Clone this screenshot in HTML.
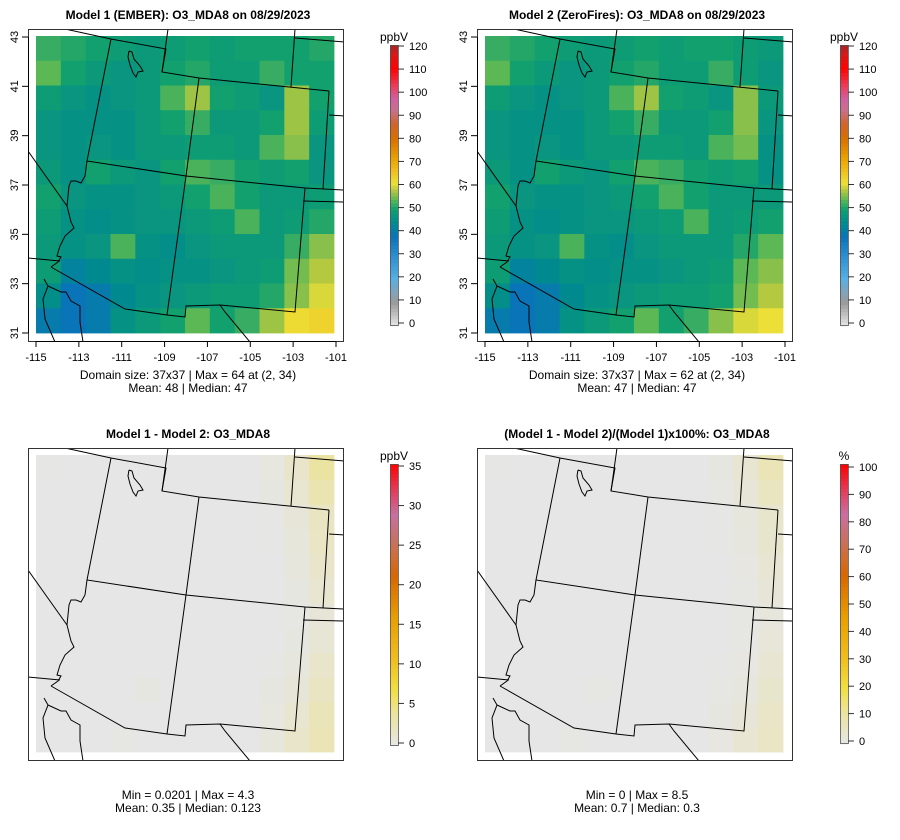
<!DOCTYPE html>
<html><head><meta charset="utf-8">
<style>
html,body{margin:0;padding:0;background:#fff;}
svg{display:block;font-family:"Liberation Sans",sans-serif;}
</style></head>
<body>
<svg id="fig" width="900" height="840" viewBox="0 0 900 840"></svg>
<script>
// ---- data (12x12 coarse grids, rows north->south, cols west->east) ----
const model1Grid = [
[52,51,50,49,48,49,50,49,50,50,50,51],
[54,50,48,47,48,50,51,49,49,52,50,50],
[49,47,46,47,48,53,57,50,49,47,57,50],
[47,46,46,46,48,50,52,48,48,50,57,49],
[47,46,47,46,48,48,49,49,48,53,56,47],
[48,46,50,48,47,50,53,52,50,49,50,47],
[50,47,46,46,47,48,50,53,50,48,48,49],
[49,46,45,46,47,47,48,49,53,48,49,51],
[48,46,47,53,46,45,47,48,48,48,52,56],
[49,42,44,46,45,46,46,47,48,49,55,58],
[45,38,40,44,46,47,48,49,49,51,56,60],
[40,38,40,46,48,50,54,50,52,57,62,63]];
const model2Grid = [
[52,51,50,49,48,49,50,49,50,50,49,48],
[54,50,48,47,48,50,51,49,49,52,49,47],
[49,47,46,47,48,53,57,50,49,47,56,48],
[47,46,46,46,48,50,52,48,48,50,56,47],
[47,46,47,46,48,48,49,49,48,53,55,46],
[48,46,50,48,47,50,53,52,50,49,50,46],
[50,47,46,46,47,48,50,53,50,48,48,48],
[49,46,45,46,47,47,48,49,53,48,49,50],
[48,46,47,53,46,45,47,48,48,48,51,54],
[49,42,44,46,45,46,46,47,48,49,54,56],
[45,38,40,44,46,47,48,49,49,50,55,58],
[40,38,40,46,48,50,54,50,52,56,60,61]];
const diffGrid = [
[0.1,0,0,0,0,0,0,0,0,0.4,1.5,3.8],
[0,0,0,0,0,0,0,0,0,0.3,1.2,3.0],
[0,0,0,0,0,0,0,0,0,0.1,0.8,2.0],
[0,0,0,0,0,0,0,0,0,0.1,0.6,1.8],
[0,0,0,0,0,0,0,0,0,0,0.5,1.5],
[0,0,0,0,0,0,0,0,0,0,0.3,1.2],
[0,0,0,0,0,0,0,0,0,0,0.2,0.8],
[0,0,0,0,0,0,0,0,0,0,0.3,1.0],
[0,0,0,0,0,0,0,0,0,0.1,0.5,1.5],
[0,0,0,0,0.3,0,0,0,0,0.3,0.8,2.0],
[0,0,0,0,0,0,0,0,0,0.4,1.2,2.5],
[0,0,0,0.2,0,0,0,0,0,0.5,1.5,2.6]];
const pctGrid = [
[0.2,0,0,0,0,0,0,0,0,0.8,3.0,7.5],
[0,0,0,0,0,0,0,0,0,0.6,2.4,6.0],
[0,0,0,0,0,0,0,0,0,0.2,1.6,4.0],
[0,0,0,0,0,0,0,0,0,0.2,1.2,3.6],
[0,0,0,0,0,0,0,0,0,0,1.0,3.0],
[0,0,0,0,0,0,0,0,0,0,0.6,2.4],
[0,0,0,0,0,0,0,0,0,0,0.4,1.6],
[0,0,0,0,0,0,0,0,0,0,0.6,2.0],
[0,0,0,0,0,0,0,0,0,0.2,1.0,3.0],
[0,0,0,0,0.6,0,0,0,0,0.6,1.6,4.0],
[0,0,0,0,0,0,0,0,0,0.8,2.4,5.0],
[0,0,0,0.4,0,0,0,0,0,1.0,3.0,5.2]];
const lonTicks = [-115,-113,-111,-109,-107,-105,-103,-101];
const latTicks = [31,33,35,37,39,41,43];
const ozoneTicks = [0,10,20,30,40,50,60,70,80,90,100,110,120];
const diffTicks = [0,5,10,15,20,25,30,35];
const pctTicks = [0,10,20,30,40,50,60,70,80,90,100];

// ---- color ramps (value fraction -> color) ----
const ozoneStops=[[0,'#e6e6e6'],[10,'#9a9a9a'],[15,'#7fa4bf'],[20,'#58b0e2'],[30,'#2c8fd0'],[38,'#0a74b8'],[44,'#008a90'],[50,'#11a06e'],[54,'#5cb855'],[58,'#b4c840'],[61,'#ece038'],[66,'#f0c020'],[72,'#e8a000'],[80,'#d87000'],[86,'#cf6528'],[92,'#c8708a'],[97,'#d060a0'],[102,'#e84060'],[110,'#ff0000'],[116,'#d81818'],[120,'#a02828']];
const warmStops=[[0,'#e6e6e6'],[0.12,'#ece39a'],[0.2,'#f0e040'],[0.3,'#f0c020'],[0.45,'#e8a000'],[0.6,'#d86800'],[0.72,'#c8705a'],[0.82,'#c870a0'],[0.9,'#e04060'],[1,'#ff0000']];
function hex(c){return [parseInt(c.slice(1,3),16),parseInt(c.slice(3,5),16),parseInt(c.slice(5,7),16)];}
function ramp(stops,v){
  if(v<=stops[0][0]) return stops[0][1];
  for(let i=1;i<stops.length;i++){
    if(v<=stops[i][0]){const a=stops[i-1],b=stops[i];const t=(v-a[0])/(b[0]-a[0]);
      const ca=hex(a[1]),cb=hex(b[1]);return 'rgb('+ca.map((x,k)=>Math.round(x+(cb[k]-x)*t)).join(',')+')';}
  }
  return stops[stops.length-1][1];
}
const NS='http://www.w3.org/2000/svg';
const svg=document.getElementById('fig');
function el(tag,attrs,parent){const e=document.createElementNS(NS,tag);for(const k in attrs)e.setAttribute(k,attrs[k]);(parent||svg).appendChild(e);return e;}
function txt(s,attrs,parent){const e=el('text',attrs,parent);e.textContent=s;return e;}

// state boundary polylines in panel-local coords (box origin)
const borders=[
[[37,0],[83,10],[138,20],[134,43]],[[140,0],[134,43],[171,49],[301,62]],[[267,0],[263,58]],[[267,9],[316,13]],
[[301,62],[295,160]],[[301,86],[316,87]],[[83,10],[59,132],[158,147],[277,159],[316,161]],[[171,49],[158,147],[139,286]],
[[277,159],[267,283],[192,276],[158,277],[157,288],[139,286],[97,280],[23,238]],[[275,172],[316,173]],
[[192,276],[197,283],[222,313]],
[[59,132],[57,147],[53,154],[48,152],[43,152],[41,157],[39,177],[43,193],[46,199],[37,207],[32,217],[29,227],[33,228],[30,233],[23,238]],
[[0,122],[39,177]],[[0,229],[32,232]],
[[16,250],[20,257],[15,270],[17,290],[27,313]],[[20,257],[33,263],[38,263],[43,272],[52,277],[52,293],[55,313]],
[[101,22],[104,23],[106,30],[112,37],[115,42],[110,43],[108,48],[105,44],[102,36],[100,28],[101,22]]
];

function panel(o){
  const g=el('g',{},svg);
  
  
  const bx=o.x, by=o.y, BW=315, BH=312;
  const clipId='clip'+o.name;
  const cp=el('clipPath',{id:clipId},g);el('rect',{x:bx,y:by,width:BW,height:BH},cp);
  const hm=el('g',{'clip-path':'url(#'+clipId+')'},g);
  
  
  const x0=bx+8,y0=by+7,W=298,H=297,rows=o.grid.length,cols=o.grid[0].length;
  const cw=W/cols,ch=H/rows;
  for(let r=0;r<rows;r++)for(let c=0;c<cols;c++){
    const rc=el('rect',{x:(x0+c*cw).toFixed(2),y:(y0+r*ch).toFixed(2),width:(cw+0.4).toFixed(2),height:(ch+0.4).toFixed(2),fill:o.color(o.grid[r][c])},hm);
    
    
  }
  const bl=el('g',{'clip-path':'url(#'+clipId+')',fill:'none',stroke:'#000','stroke-width':'1'},g);
  
  
  borders.forEach(b=>{el('polyline',{points:b.map(p=>(bx+p[0])+','+(by+p[1])).join(' ')},bl);});
  const box=el('rect',{x:bx+0.5,y:by+0.5,width:BW,height:BH,fill:'none',stroke:'#333','stroke-width':'1'},g);
  
  
  const t=txt(o.title,{x:bx+160,y:by-10,'text-anchor':'middle','font-size':'12','font-weight':'bold'},g);
  
  
  if(o.axes){
    const xs=v=>x0+(v+115)/14*(W+2);
    const ys=v=>y0+H-(v-31)/12*(H-1);
    const ax=el('g',{stroke:'#000','font-size':'11'},g);
    
    
    el('line',{x1:xs(lonTicks[0]),x2:xs(lonTicks[lonTicks.length-1]),y1:by+BH+0.5,y2:by+BH+0.5},ax);
    lonTicks.forEach(v=>{el('line',{x1:xs(v),x2:xs(v),y1:by+BH,y2:by+BH+6},ax);
      const l=txt(String(v),{x:xs(v),y:by+BH+20,'text-anchor':'middle',stroke:'none'},ax);
      });
    const ay=el('g',{stroke:'#000','font-size':'11'},g);
    
    
    el('line',{x1:bx+0.5,x2:bx+0.5,y1:ys(31),y2:ys(43)},ay);
    latTicks.forEach(v=>{el('line',{x1:bx-6,x2:bx,y1:ys(v),y2:ys(v)},ay);
      const l=txt(String(v),{x:bx-10,y:ys(v),'text-anchor':'middle',stroke:'none',transform:'rotate(-90 '+(bx-10)+' '+ys(v)+')'},ay);
      });
  }
  o.notes.forEach((s,i)=>{const n=txt(s,{x:bx+160,y:o.noteY+i*13,'text-anchor':'middle','font-size':'12'},g);
    });
  // colorbar
  const cb=el('g',{},g);
  
  
  const cbx=o.cbx, top=o.cbTop, bot=o.cbBot, ticks=o.ticks, vmax=ticks[ticks.length-1];
  const yv=v=>o.cbZero-(v/vmax)*(o.cbZero-o.cbMax);
  const n=80;
  for(let i=0;i<n;i++){
    const v=vmax*(i+0.5)/n;
    const yb=bot-(bot-top)*i/n, yt=bot-(bot-top)*(i+1)/n;
    el('rect',{x:cbx,y:yt,width:8,height:(yb-yt)+0.3,fill:o.color(v)},cb);
  }
  el('rect',{x:cbx+0.5,y:top+0.5,width:8,height:bot-top-1,fill:'none',stroke:'#555','stroke-width':'0.8'},cb);
  ticks.forEach(v=>{el('line',{x1:cbx+8,x2:cbx+14,y1:yv(v),y2:yv(v),stroke:'#333'},cb);
    const l=txt(String(v),{x:cbx+19,y:yv(v)+4,'font-size':'11'},cb);
    });
  const u=txt(o.unit,{x:cbx+4,y:top-4,'text-anchor':'middle','font-size':'12'},cb);
  
}
const ozoneColor=v=>ramp(ozoneStops,v);
panel({name:'model1-panel',x:28,y:29,grid:model1Grid,color:ozoneColor,axes:true,title:'Model 1 (EMBER): O3_MDA8 on 08/29/2023',
  notes:['Domain size: 37x37 | Max = 64 at (2, 34)','Mean: 48 |  Median: 47'],noteY:379,
  cbx:390,cbTop:45,cbBot:326,cbZero:323,cbMax:46,ticks:ozoneTicks,unit:'ppbV'});
panel({name:'model2-panel',x:477,y:29,grid:model2Grid,color:ozoneColor,axes:true,title:'Model 2 (ZeroFires): O3_MDA8 on 08/29/2023',
  notes:['Domain size: 37x37 | Max = 62 at (2, 34)','Mean: 47 |  Median: 47'],noteY:379,
  cbx:840,cbTop:45,cbBot:326,cbZero:323,cbMax:46,ticks:ozoneTicks,unit:'ppbV'});
panel({name:'difference-panel',x:28,y:448,grid:diffGrid,color:v=>ramp(warmStops,v/35),axes:false,title:'Model 1 - Model 2: O3_MDA8',
  notes:['Min = 0.0201 | Max = 4.3','Mean: 0.35 |  Median: 0.123'],noteY:799,
  cbx:390,cbTop:464,cbBot:746,cbZero:743,cbMax:466,ticks:diffTicks,unit:'ppbV'});
panel({name:'percent-difference-panel',x:477,y:448,grid:pctGrid,color:v=>ramp(warmStops,v/100),axes:false,title:'(Model 1 - Model 2)/(Model 1)x100%: O3_MDA8',
  notes:['Min = 0 | Max = 8.5','Mean: 0.7 |  Median: 0.3'],noteY:799,
  cbx:840,cbTop:464,cbBot:744,cbZero:741,cbMax:467,ticks:pctTicks,unit:'%'});
</script>
</body></html>
